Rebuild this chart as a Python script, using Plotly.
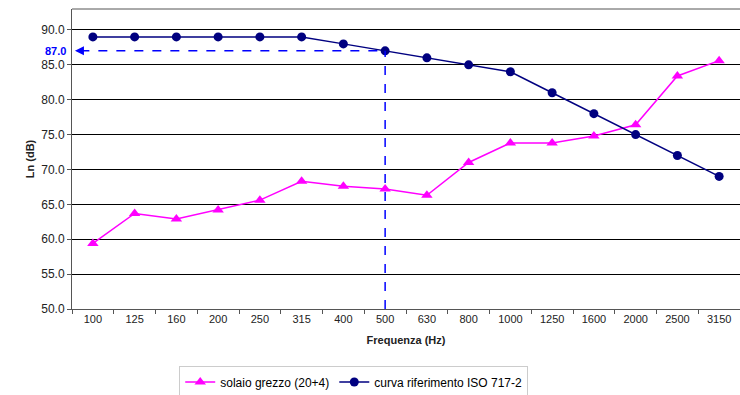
import plotly.graph_objects as go

freqs = ["100", "125", "160", "200", "250", "315", "400", "500", "630", "800",
         "1000", "1250", "1600", "2000", "2500", "3150"]
solaio = [59.4, 63.7, 62.9, 64.2, 65.6, 68.3, 67.6, 67.2, 66.3, 71.0,
          73.8, 73.8, 74.8, 76.4, 83.4, 85.6]
iso_ref = [89, 89, 89, 89, 89, 89, 88, 87, 86, 85, 84, 81, 78, 75, 72, 69]
y_ticks = [50, 55, 60, 65, 70, 75, 80, 85, 90]
ref_freq = "500"

idx = freqs.index(ref_freq)
ref_val = iso_ref[idx]

fig = go.Figure()
fig.add_trace(go.Scatter(
    x=freqs, y=solaio, name="solaio grezzo (20+4)", mode="lines+markers",
    line=dict(color="#ff00ff", width=1.5),
    marker=dict(symbol="triangle-up", size=10, color="#ff00ff")))
fig.add_trace(go.Scatter(
    x=freqs, y=iso_ref, name="curva riferimento ISO 717-2", mode="lines+markers",
    line=dict(color="#000080", width=1.5),
    marker=dict(symbol="circle", size=9, color="#000080")))

# dashed reference lines
fig.add_shape(type="line", xref="x", yref="y", x0=-0.3, x1=idx, y0=ref_val, y1=ref_val,
              line=dict(color="#0000ff", width=1.5, dash="dash"))
fig.add_shape(type="line", xref="x", yref="y", x0=idx, x1=idx, y0=50, y1=ref_val,
              line=dict(color="#0000ff", width=1.5, dash="dash"))
fig.add_annotation(xref="x", yref="y", x=-0.43, y=ref_val, text="", showarrow=True,
                   ax=8, ay=0, arrowhead=2, arrowsize=1.2, arrowwidth=1.5,
                   arrowcolor="#0000ff", standoff=0)
fig.add_annotation(xref="paper", yref="y", x=0, y=ref_val, text="<b>%.1f</b>" % ref_val,
                   showarrow=False, xanchor="right", xshift=-4,
                   font=dict(color="#0000ff", size=11, family="Arial"))

fig.update_layout(
    width=740, height=395,
    margin=dict(l=72, r=0, t=9, b=86),
    paper_bgcolor="white", plot_bgcolor="white",
    font=dict(family="Arial", size=11, color="#222"),
    showlegend=True,
    legend=dict(orientation="h", xref="container", yref="container",
                x=0.478, y=0.033, xanchor="center", yanchor="middle",
                bordercolor="#cccccc", borderwidth=1, font=dict(size=12, color="#000"),
                itemwidth=30, tracegroupgap=0),
)
fig.update_xaxes(type="category", range=[-0.5, len(freqs) - 0.5],
                 showline=True, linecolor="#555", linewidth=1,
                 ticks="outside", tickson="boundaries", ticklen=4, tickcolor="#555",
                 showgrid=False, mirror=False,
                 title=dict(text="<b>Frequenza (Hz)</b>", font=dict(size=11, color="#222"), standoff=12))
fig.update_yaxes(range=[50, 93], tickvals=y_ticks, ticktext=["%.1f" % v for v in y_ticks],
                 showline=True, linecolor="#555", linewidth=1,
                 ticks="outside", ticklen=4, tickcolor="#555",
                 showgrid=True, gridcolor="black", gridwidth=1,
                 title=dict(text="<b>Ln (dB)</b>", font=dict(size=11, color="#222"), standoff=4),
                 tickfont=dict(size=12), zeroline=False)
fig.add_shape(type="line", xref="paper", yref="paper", x0=0, x1=1, y0=1, y1=1,
              line=dict(color="#555", width=1))

fig.write_html("out.html")
